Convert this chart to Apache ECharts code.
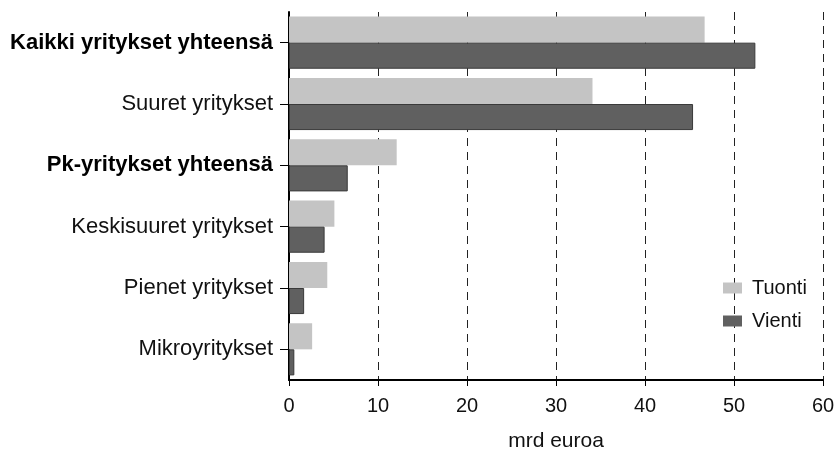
<!DOCTYPE html>
<html>
<head>
<meta charset="utf-8">
<script src="https://cdn.jsdelivr.net/npm/echarts@6/dist/echarts.min.js"></script>
<style>
  html, body { margin: 0; padding: 0; background: #fff; }
  #chart { width: 837px; height: 451px; }
</style>
</head>
<body>
<div id="chart"></div>
<script>
const categories = ['Kaikki yritykset yhteensä', 'Suuret yritykset', 'Pk-yritykset yhteensä',
  'Keskisuuret yritykset', 'Pienet yritykset', 'Mikroyritykset']
const boldCategories = ['Kaikki yritykset yhteensä', 'Pk-yritykset yhteensä']
const tuonti = [46.7, 34.1, 12.1, 5.1, 4.3, 2.6]
const vienti = [52.4, 45.4, 6.6, 4.0, 1.7, 0.6]
const xTicks = [0, 10, 20, 30, 40, 50, 60]

const chart = echarts.init(document.getElementById('chart'))

const option = {
  animation: false,
  textStyle: { fontFamily: 'Liberation Sans, Arial, sans-serif' },
  grid: { left: 289, right: 14, top: 12, bottom: 71, outerBoundsMode: 'none' },
  legend: {
    orient: 'vertical',
    left: 723,
    top: 278,
    padding: 0,
    icon: 'rect',
    itemWidth: 19,
    itemHeight: 11,
    itemGap: 13,
    itemStyle: { borderWidth: 0 },
    textStyle: { fontSize: 20, color: '#111', padding: [0, 0, 0, 5] },
    data: ['Tuonti', 'Vienti']
  },
  xAxis: {
    type: 'value',
    min: xTicks[0],
    max: xTicks[xTicks.length - 1],
    interval: 10,
    name: 'mrd euroa',
    nameLocation: 'middle',
    nameGap: 51,
    nameTextStyle: { fontSize: 21, color: '#111' },
    axisLine: { show: true, lineStyle: { color: '#000', width: 2 } },
    axisTick: { show: true, length: 6, lineStyle: { color: '#000' } },
    axisLabel: { fontSize: 20, color: '#111', margin: 16 },
    splitLine: {
      show: true,
      lineStyle: { color: '#222', type: [8, 6], width: 1 }
    }
  },
  yAxis: {
    type: 'category',
    inverse: true,
    data: categories,
    axisLine: { show: true, lineStyle: { color: '#000', width: 2 } },
    axisTick: { show: true, alignWithLabel: true, length: 9, lineStyle: { color: '#000' } },
    axisLabel: {
      fontSize: 22,
      color: '#111',
      margin: 16,
      formatter: v => boldCategories.includes(v) ? '{b|' + v + '}' : v,
      rich: { b: { fontSize: 22, fontWeight: 'bold', color: '#000' } }
    }
  },
  series: [
    {
      name: 'Tuonti',
      type: 'bar',
      data: tuonti,
      barGap: '0%',
      barCategoryGap: '15%',
      itemStyle: { color: '#c4c4c4' }
    },
    {
      name: 'Vienti',
      type: 'bar',
      data: vienti,
      barGap: '0%',
      barCategoryGap: '15%',
      itemStyle: { color: '#606060', borderColor: '#3a3a3a', borderWidth: 1 }
    }
  ]
}

chart.setOption(option)
</script>
</body>
</html>
